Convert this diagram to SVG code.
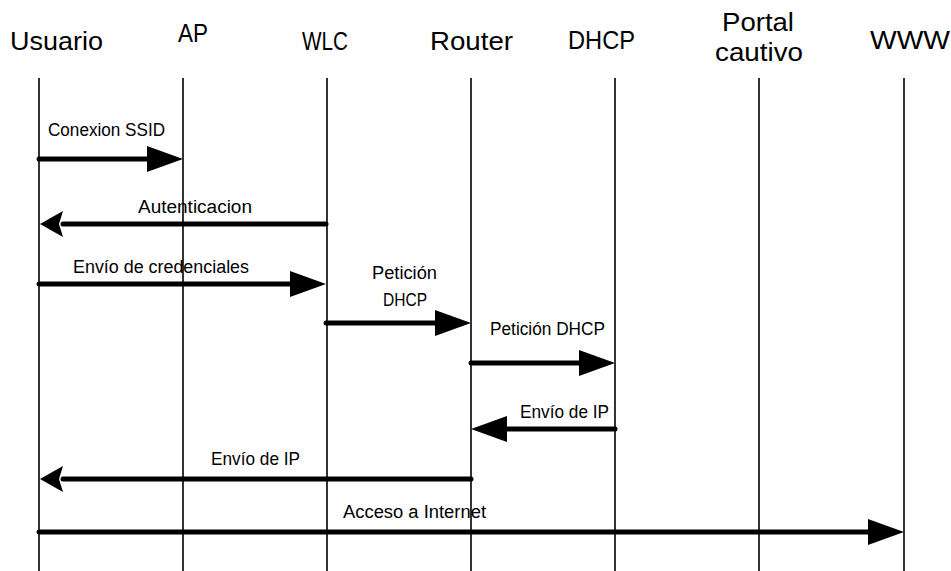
<svg xmlns="http://www.w3.org/2000/svg" width="951" height="571" viewBox="0 0 951 571">
<style>
  .hdr { font-family: "Liberation Sans", Arial, sans-serif; font-size: 26px; fill: #000; }
  .lbl { font-family: "Liberation Sans", Arial, sans-serif; font-size: 18px; fill: #000; }
  .life { stroke: #000; stroke-width: 1.6; fill: none; }
  .msg { stroke: #000; stroke-width: 5; fill: none; stroke-linecap: round; }
  .msgL { marker-end: url(#headLong); }
  .msgS { marker-end: url(#headShort); }
</style>
<defs>
  <marker id="headLong" markerUnits="userSpaceOnUse" markerWidth="36" markerHeight="26" refX="0" refY="13" orient="auto" overflow="visible">
    <path d="M0,0 L36,13 L0,26 Z" fill="#000"/>
  </marker>
  <marker id="headShort" markerUnits="userSpaceOnUse" markerWidth="23" markerHeight="26" refX="0" refY="13" orient="auto" overflow="visible">
    <path d="M0,0 L23,13 L0,26 L4,13 Z" fill="#000"/>
  </marker>
</defs>
<rect width="951" height="571" fill="#fff"/>

<g id="usuario">
  <text class="hdr" x="10" y="50" textLength="93" lengthAdjust="spacingAndGlyphs">Usuario</text>
  <line class="life" x1="39" y1="78" x2="39" y2="571"/>
</g>
<g id="ap">
  <text class="hdr" x="178" y="42" textLength="30" lengthAdjust="spacingAndGlyphs">AP</text>
  <line class="life" x1="183" y1="78" x2="183" y2="571"/>
</g>
<g id="wlc">
  <text class="hdr" x="302" y="50" textLength="46" lengthAdjust="spacingAndGlyphs">WLC</text>
  <line class="life" x1="327" y1="78" x2="327" y2="571"/>
</g>
<g id="router">
  <text class="hdr" x="430" y="50" textLength="83" lengthAdjust="spacingAndGlyphs">Router</text>
  <line class="life" x1="471" y1="78" x2="471" y2="571"/>
</g>
<g id="dhcp">
  <text class="hdr" x="568" y="49" textLength="67" lengthAdjust="spacingAndGlyphs">DHCP</text>
  <line class="life" x1="615" y1="78" x2="615" y2="571"/>
</g>
<g id="portal">
  <text class="hdr" x="722" y="31" textLength="72" lengthAdjust="spacingAndGlyphs">Portal</text>
  <text class="hdr" x="715" y="61" textLength="88" lengthAdjust="spacingAndGlyphs">cautivo</text>
  <line class="life" x1="759" y1="78" x2="759" y2="571"/>
</g>
<g id="www">
  <text class="hdr" x="870" y="49" textLength="80" lengthAdjust="spacingAndGlyphs">WWW</text>
  <line class="life" x1="904" y1="78" x2="904" y2="571"/>
</g>

<g id="connectors">
  <line class="msg msgL" x1="39" y1="159" x2="147" y2="159"/>
  <text class="lbl" x="48" y="136" textLength="117" lengthAdjust="spacingAndGlyphs">Conexion SSID</text>

  <line class="msg msgS" x1="326" y1="224" x2="63" y2="224"/>
  <text class="lbl" x="138" y="213" textLength="114" lengthAdjust="spacingAndGlyphs">Autenticacion</text>

  <line class="msg msgL" x1="39" y1="284" x2="290" y2="284"/>
  <text class="lbl" x="73" y="273" textLength="176" lengthAdjust="spacingAndGlyphs">Envío de credenciales</text>

  <line class="msg msgL" x1="326" y1="323" x2="435" y2="323"/>
  <text class="lbl" x="372" y="279" textLength="65" lengthAdjust="spacingAndGlyphs">Petición</text>
  <text class="lbl" x="383" y="306" textLength="44" lengthAdjust="spacingAndGlyphs">DHCP</text>

  <line class="msg msgL" x1="471" y1="363" x2="579" y2="363"/>
  <text class="lbl" x="490" y="335" textLength="115" lengthAdjust="spacingAndGlyphs">Petición DHCP</text>

  <line class="msg msgL" x1="615" y1="429" x2="507" y2="429"/>
  <text class="lbl" x="520" y="418" textLength="89" lengthAdjust="spacingAndGlyphs">Envío de IP</text>

  <line class="msg msgS" x1="471" y1="479" x2="63" y2="479"/>
  <text class="lbl" x="211" y="465" textLength="89" lengthAdjust="spacingAndGlyphs">Envío de IP</text>

  <line class="msg msgL" x1="39" y1="532" x2="868" y2="532"/>
  <text class="lbl" x="343" y="518" textLength="143" lengthAdjust="spacingAndGlyphs">Acceso a Internet</text>
</g>
</svg>
